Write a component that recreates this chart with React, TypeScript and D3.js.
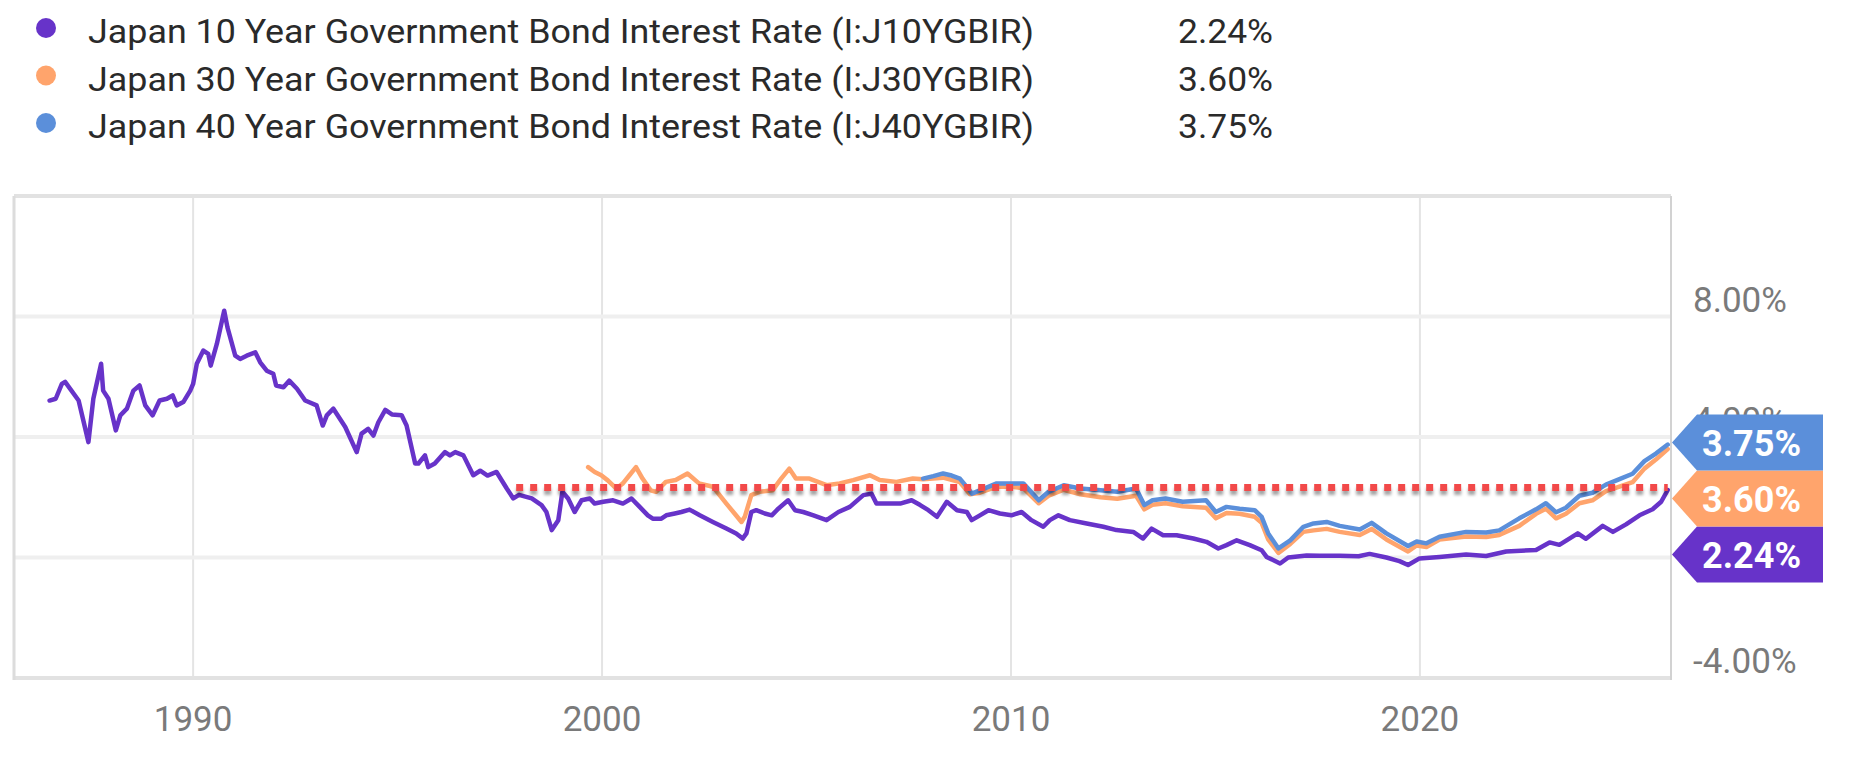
import React from 'react';
import * as d3 from 'd3';

// ---------- data ----------
const seriesLabels = [
  'Japan 10 Year Government Bond Interest Rate (I:J10YGBIR)',
  'Japan 30 Year Government Bond Interest Rate (I:J30YGBIR)',
  'Japan 40 Year Government Bond Interest Rate (I:J40YGBIR)',
];
const lastValues = [2.24, 3.6, 3.75];
const seriesColors = ['#6733C9', '#FFA46C', '#5B8FDA'];

// [decimal year, yield %]
const tenYear: [number, number][] = [
  [1986.49, 5.21], [1986.64, 5.27], [1986.79, 5.76], [1986.87, 5.83], [1987.2, 5.21],
  [1987.44, 3.83], [1987.56, 5.27], [1987.75, 6.43], [1987.8, 5.54], [1987.93, 5.27],
  [1988.11, 4.22], [1988.22, 4.72], [1988.38, 4.94], [1988.54, 5.54], [1988.69, 5.71],
  [1988.83, 5.05], [1989.01, 4.72], [1989.18, 5.21], [1989.36, 5.27], [1989.5, 5.38],
  [1989.6, 5.05], [1989.76, 5.16], [1989.93, 5.54], [1990.0, 5.76], [1990.09, 6.43],
  [1990.25, 6.87], [1990.37, 6.76], [1990.43, 6.37], [1990.58, 7.09], [1990.76, 8.19],
  [1990.84, 7.64], [1991.03, 6.7], [1991.15, 6.59], [1991.31, 6.7], [1991.52, 6.81],
  [1991.64, 6.48], [1991.8, 6.2], [1991.96, 6.1], [1992.03, 5.71], [1992.21, 5.65],
  [1992.35, 5.87], [1992.54, 5.6], [1992.74, 5.21], [1993.02, 5.05], [1993.17, 4.38],
  [1993.27, 4.72], [1993.43, 4.94], [1993.72, 4.33], [1994.0, 3.5], [1994.12, 4.11],
  [1994.28, 4.27], [1994.41, 4.05], [1994.53, 4.49], [1994.7, 4.9], [1994.86, 4.75],
  [1995.1, 4.72], [1995.22, 4.38], [1995.43, 3.12], [1995.51, 3.12], [1995.67, 3.39],
  [1995.75, 3.0], [1995.91, 3.12], [1996.16, 3.5], [1996.28, 3.39], [1996.41, 3.5],
  [1996.61, 3.39], [1996.85, 2.73], [1997.02, 2.88], [1997.2, 2.72], [1997.42, 2.84],
  [1997.67, 2.29], [1997.83, 1.96], [1997.97, 2.08], [1998.28, 1.96], [1998.52, 1.74],
  [1998.64, 1.51], [1998.77, 0.91], [1998.93, 1.24], [1999.03, 2.18], [1999.17, 1.96],
  [1999.33, 1.51], [1999.5, 1.9], [1999.7, 1.96], [1999.82, 1.79], [2000.03, 1.85],
  [2000.27, 1.9], [2000.51, 1.79], [2000.72, 1.96], [2000.92, 1.68], [2001.12, 1.4],
  [2001.24, 1.29], [2001.45, 1.29], [2001.57, 1.4], [2001.78, 1.46], [2001.94, 1.51],
  [2002.14, 1.59], [2002.39, 1.4], [2002.71, 1.18], [2003.04, 0.96], [2003.28, 0.8],
  [2003.44, 0.63], [2003.53, 0.8], [2003.65, 1.51], [2003.77, 1.57], [2003.98, 1.46],
  [2004.15, 1.4], [2004.31, 1.62], [2004.55, 1.9], [2004.72, 1.57], [2004.92, 1.51],
  [2005.17, 1.4], [2005.49, 1.24], [2005.78, 1.51], [2006.06, 1.68], [2006.39, 2.07],
  [2006.59, 2.12], [2006.71, 1.79], [2007.04, 1.79], [2007.29, 1.79], [2007.57, 1.9],
  [2007.78, 1.74], [2007.98, 1.57], [2008.19, 1.35], [2008.43, 1.85], [2008.68, 1.57],
  [2008.92, 1.51], [2009.04, 1.24], [2009.24, 1.4], [2009.45, 1.57], [2009.73, 1.46],
  [2010.01, 1.4], [2010.26, 1.51], [2010.5, 1.24], [2010.79, 1.02], [2010.95, 1.24],
  [2011.16, 1.4], [2011.44, 1.24], [2011.85, 1.13], [2012.26, 1.02], [2012.58, 0.91],
  [2012.99, 0.85], [2013.23, 0.63], [2013.44, 0.96], [2013.72, 0.74], [2014.05, 0.74],
  [2014.46, 0.63], [2014.78, 0.52], [2015.07, 0.3], [2015.27, 0.41], [2015.52, 0.57],
  [2015.84, 0.41], [2016.13, 0.24], [2016.25, 0.02], [2016.58, -0.2], [2016.78, 0.0],
  [2017.23, 0.07], [2017.55, 0.06], [2018.04, 0.06], [2018.5, 0.04], [2018.77, 0.12],
  [2019.18, 0.0], [2019.5, -0.12], [2019.71, -0.25], [2019.99, -0.03], [2020.48, 0.02],
  [2021.13, 0.1], [2021.62, 0.05], [2022.11, 0.2], [2022.84, 0.25], [2023.17, 0.5],
  [2023.41, 0.42], [2023.86, 0.8], [2024.06, 0.62], [2024.47, 1.05], [2024.72, 0.85],
  [2025.04, 1.1], [2025.37, 1.4], [2025.69, 1.6], [2025.9, 1.85], [2026.06, 2.24],
];

const thirtyYear: [number, number][] = [
  [1999.66, 3.0], [1999.82, 2.84], [1999.98, 2.73], [2000.14, 2.56], [2000.35, 2.29],
  [2000.51, 2.46], [2000.67, 2.73], [2000.83, 3.0], [2000.99, 2.62], [2001.19, 2.23],
  [2001.32, 2.18], [2001.56, 2.51], [2001.8, 2.57], [2002.09, 2.79], [2002.37, 2.46],
  [2002.71, 2.35], [2003.04, 1.79], [2003.24, 1.46], [2003.41, 1.18], [2003.49, 1.35],
  [2003.65, 2.07], [2003.85, 2.18], [2004.17, 2.23], [2004.38, 2.62], [2004.58, 2.95],
  [2004.74, 2.62], [2005.07, 2.62], [2005.49, 2.4], [2005.81, 2.46], [2006.14, 2.57],
  [2006.55, 2.73], [2006.79, 2.57], [2007.2, 2.51], [2007.6, 2.62], [2007.85, 2.6],
  [2008.34, 2.65], [2008.75, 2.5], [2009.0, 2.1], [2009.24, 2.15], [2009.65, 2.35],
  [2010.01, 2.35], [2010.3, 2.3], [2010.68, 1.8], [2010.92, 2.05], [2011.29, 2.25],
  [2011.7, 2.1], [2012.19, 2.0], [2012.6, 1.95], [2013.06, 2.05], [2013.26, 1.6],
  [2013.46, 1.75], [2013.78, 1.8], [2014.2, 1.7], [2014.77, 1.65], [2015.01, 1.3],
  [2015.27, 1.48], [2015.59, 1.45], [2015.96, 1.35], [2016.13, 1.15], [2016.29, 0.6],
  [2016.54, 0.15], [2016.83, 0.45], [2017.15, 0.85], [2017.4, 0.9], [2017.72, 0.95],
  [2018.04, 0.85], [2018.53, 0.75], [2018.82, 0.95], [2019.18, 0.6], [2019.71, 0.2],
  [2019.92, 0.4], [2020.16, 0.35], [2020.48, 0.6], [2021.13, 0.7], [2021.62, 0.68],
  [2021.94, 0.75], [2022.43, 1.05], [2022.84, 1.45], [2023.08, 1.62], [2023.33, 1.3],
  [2023.57, 1.45], [2023.9, 1.8], [2024.22, 1.9], [2024.55, 2.2], [2024.88, 2.35],
  [2025.2, 2.5], [2025.49, 2.95], [2025.77, 3.25], [2026.06, 3.6],
];

const fortyYear: [number, number][] = [
  [2007.85, 2.62], [2008.1, 2.7], [2008.34, 2.79], [2008.55, 2.72], [2008.75, 2.62],
  [2008.99, 2.23], [2009.04, 2.12], [2009.24, 2.23], [2009.65, 2.46], [2010.01, 2.46],
  [2010.3, 2.46], [2010.68, 1.9], [2010.92, 2.18], [2011.29, 2.4], [2011.7, 2.29],
  [2012.19, 2.23], [2012.6, 2.18], [2013.06, 2.29], [2013.26, 1.74], [2013.46, 1.9],
  [2013.78, 1.96], [2014.2, 1.85], [2014.77, 1.9], [2015.01, 1.51], [2015.27, 1.68],
  [2015.59, 1.62], [2015.96, 1.57], [2016.13, 1.35], [2016.29, 0.8], [2016.54, 0.3],
  [2016.83, 0.57], [2017.15, 1.02], [2017.4, 1.13], [2017.72, 1.18], [2018.04, 1.05],
  [2018.53, 0.93], [2018.82, 1.15], [2019.18, 0.8], [2019.71, 0.38], [2019.92, 0.53],
  [2020.16, 0.47], [2020.48, 0.69], [2021.13, 0.85], [2021.62, 0.83], [2021.94, 0.9],
  [2022.43, 1.3], [2022.84, 1.6], [2023.08, 1.8], [2023.33, 1.5], [2023.57, 1.65],
  [2023.9, 2.05], [2024.22, 2.15], [2024.55, 2.42], [2024.88, 2.6], [2025.2, 2.78],
  [2025.49, 3.2], [2025.77, 3.45], [2026.06, 3.75],
];

const yTicks = [-4, 0, 4, 8];
const xTicks = [1990, 2000, 2010, 2020];
const refStartYear = 1997.9;
const refEndYear = 2026.06;
const refValue = 2.32;

// ---------- layout ----------
const W = 1866;
const H = 759;
const plot = { left: 14, right: 1671, top: 196, bottom: 678 };
const FONT = 'Roboto, "Noto Sans", sans-serif';

export default function App() {
  const x = d3.scaleLinear().domain([1985.62, 2026.14]).range([plot.left, plot.right]);
  const y = d3.scaleLinear().domain([-4, 12]).range([plot.bottom, plot.top]);
  const line = d3
    .line<[number, number]>()
    .x((d) => x(d[0]))
    .y((d) => y(d[1]))
    .curve(d3.curveLinear);

  const data = [tenYear, thirtyYear, fortyYear];
  const drawOrder = [1, 2, 0];

  // badges, stacked to avoid overlap
  const badgeH = 56;
  const order = d3.range(lastValues.length).sort((a, b) => lastValues[b] - lastValues[a]);
  const badgeY: number[] = [];
  let prev = -Infinity;
  order.forEach((i) => {
    const cy = Math.max(y(lastValues[i]) - 2, prev + badgeH);
    badgeY[i] = cy;
    prev = cy;
  });

  const tipX = plot.right + 1;
  const bodyX = tipX + 25;
  const bodyR = 1823;

  const refY = y(refValue);
  const refX1 = x(refStartYear);
  const refX2 = x(refEndYear);

  return (
    <svg
      width={W}
      height={H}
      style={{ position: 'absolute', left: 0, top: 0, background: '#fff' }}
      fontFamily={FONT}
    >
      <defs>
        <filter
          id="shadow"
          filterUnits="userSpaceOnUse"
          x={refX1 - 20}
          y={refY - 20}
          width={refX2 - refX1 + 40}
          height={40}
        >
          <feDropShadow dx="0" dy="4" stdDeviation="1.6" floodColor="#000" floodOpacity="0.35" />
        </filter>
      </defs>
      <rect x={0} y={0} width={W} height={H} fill="#fff" />

      {/* legend */}
      {seriesLabels.map((lab, i) => {
        const base = 43 + i * 47.5;
        return (
          <g key={lab}>
            <circle cx={46} cy={base - 15} r={10} fill={seriesColors[i]} />
            <text x={88} y={base} fontSize={33} fill="#2a2a2a" textLength={946} lengthAdjust="spacingAndGlyphs">
              {lab}
            </text>
            <text x={1178} y={base} fontSize={33} fill="#2a2a2a" textLength={95} lengthAdjust="spacingAndGlyphs">
              {lastValues[i].toFixed(2) + '%'}
            </text>
          </g>
        );
      })}

      {/* grid */}
      {xTicks.map((t) => (
        <line key={'vx' + t} x1={x(t)} x2={x(t)} y1={plot.top} y2={plot.bottom} stroke="#e4e4e4" strokeWidth={2} />
      ))}
      {yTicks.concat([12]).map((t) => (
        <line
          key={'hy' + t}
          x1={plot.left}
          x2={plot.right}
          y1={y(t)}
          y2={y(t)}
          stroke={t === 12 || t === -4 ? '#e2e2e2' : '#efefef'}
          strokeWidth={4}
        />
      ))}
      <line x1={plot.left} x2={plot.left} y1={plot.top} y2={plot.bottom + 2} stroke="#dcdcdc" strokeWidth={3} />
      <line x1={plot.right} x2={plot.right} y1={plot.top} y2={plot.bottom + 2} stroke="#d2d2d2" strokeWidth={2} />

      {/* x labels */}
      {xTicks.map((t) => (
        <text key={'xl' + t} x={x(t)} y={731} fontSize={35} fill="#7a7a7a" textAnchor="middle">
          {t}
        </text>
      ))}

      {/* y labels */}
      {yTicks.map((t) => (
        <text key={'yl' + t} x={1693} y={y(t) - 5} fontSize={35} fill="#7a7a7a">
          {t.toFixed(2) + '%'}
        </text>
      ))}

      {/* series */}
      {drawOrder.map((i) => (
        <path
          key={'s' + i}
          d={line(data[i]) || ''}
          fill="none"
          stroke={seriesColors[i]}
          strokeWidth={4.5}
          strokeLinejoin="round"
          strokeLinecap="round"
        />
      ))}

      {/* red dotted reference */}
      <line
        x1={refX1}
        x2={refX2}
        y1={refY}
        y2={refY}
        stroke="#F24848"
        strokeWidth={7}
        strokeDasharray="7 7"
        filter="url(#shadow)"
      />

      {/* value badges */}
      {lastValues.map((v, i) => {
        const cy = badgeY[i];
        const h = badgeH / 2;
        const p = `M${tipX},${cy} L${bodyX},${cy - h} L${bodyR},${cy - h} L${bodyR},${cy + h} L${bodyX},${cy + h} Z`;
        return (
          <g key={'b' + i}>
            <path d={p} fill={seriesColors[i]} />
            <text x={1702} y={cy + 13} fontSize={36} fontWeight={700} fill="#fff">
              {v.toFixed(2) + '%'}
            </text>
          </g>
        );
      })}
    </svg>
  );
}
